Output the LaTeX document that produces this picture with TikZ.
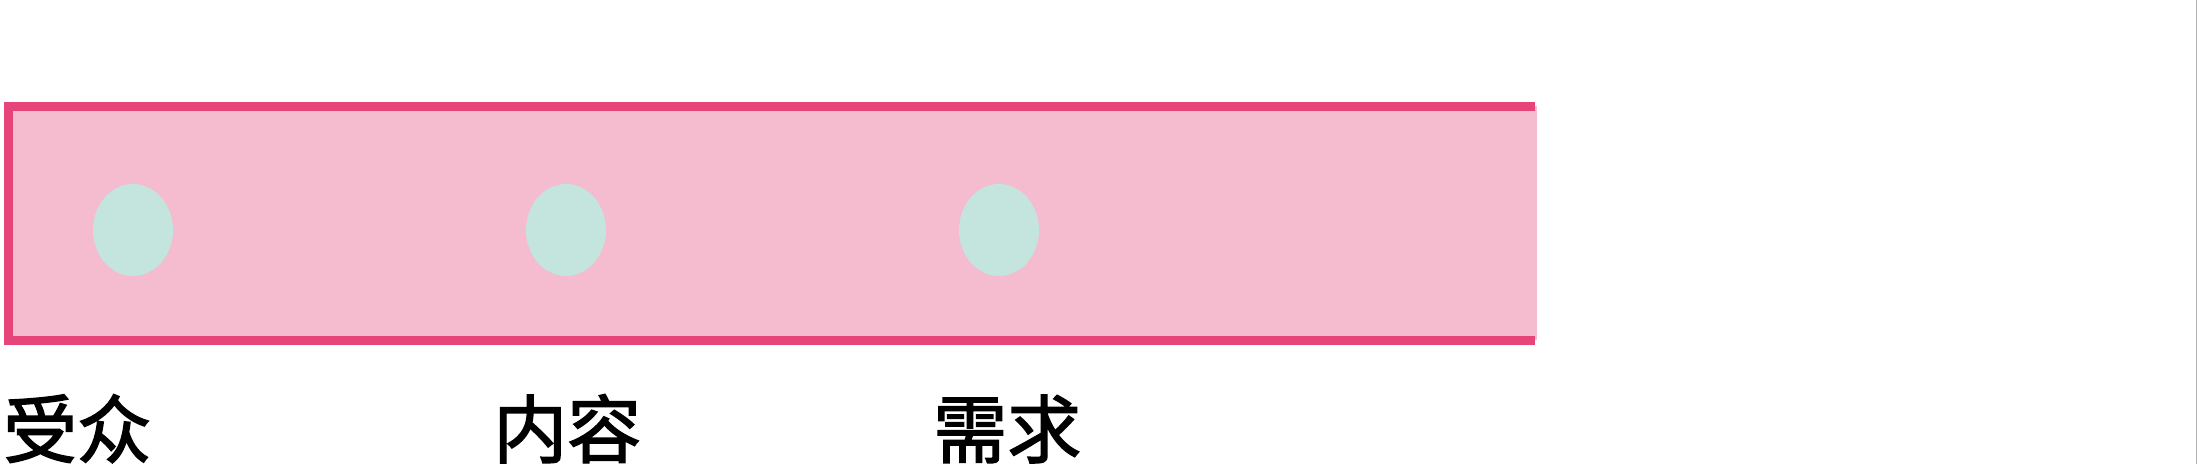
\documentclass[tikz,border=0pt]{standalone}
\usepackage{fontspec}
\newfontfamily\cjk[FakeBold=2]{Noto Sans CJK SC}
\usepackage{tikz}
\usetikzlibrary{shapes}
\definecolor{barline}{HTML}{E6457A}
\definecolor{barfill}{HTML}{F5BBCF}
\definecolor{dotfill}{HTML}{C4E4DE}

\begin{document}
\begin{tikzpicture}[dot/.style={ellipse,fill=dotfill,minimum width=80bp,minimum height=92bp,inner sep=0pt},
  lbl/.style={anchor=base west,inner sep=0pt,font=\cjk\fontsize{74bp}{80bp}\selectfont}]
\useasboundingbox (0bp,0bp) rectangle (2197bp,-464bp);
\fill[barfill] (8bp,-106bp) rectangle (1537bp,-340bp);
\draw[barline,line width=9bp] (1535bp,-106bp) -- (8bp,-106bp) -- (8bp,-340bp) -- (1535bp,-340bp);
\node (D1) at (133bp,-230bp)[dot] {};
\node (D2) at (566bp,-230bp)[dot] {};
\node (D3) at (999bp,-230bp)[dot] {};
\node (L1) at (3bp,-457bp)[lbl] {受众};
\node (L2) at (493bp,-457bp)[lbl] {内容};
\node (L3) at (933bp,-457bp)[lbl] {需求};
\draw[black!30,line width=1bp] (2196.5bp,0bp) -- (2196.5bp,-464bp);
\end{tikzpicture}
\end{document}
